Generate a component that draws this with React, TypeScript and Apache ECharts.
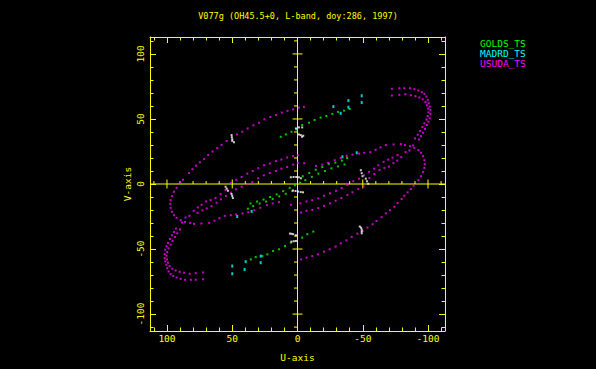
import React, { useEffect, useRef } from "react";
import * as echarts from "echarts";

const YELLOW = "#ffff00";
const FONT = "'DejaVu Sans Mono', monospace";

const titleText = "V077g (OH45.5+0, L-band, doy:286, 1997)";
const uAxisName = "U-axis";
const vAxisName = "V-axis";
const axisMin = -113;
const axisMax = 113;
const labelTicks = [-100, -50, 0, 50, 100];
const minorTicks = [-110, -90, -80, -70, -60, -40, -30, -20, -10, 10, 20, 30, 40, 60, 70, 80, 90, 110];
const crossMajor = [-100, -50, 50, 100];

const legendNames = ["GOLDS_TS", "MADRD_TS", "USUDA_TS"];
const legendColors = ["#00ff00", "#00ffff", "#ff00ff"];

// USUDA_TS tracks (u, v)
const usudaLineA = [[89.7,0.8],[87.7,3.3],[83.1,8.5],[80.5,11.4],[77.7,14.1],[74.8,16.7],[71.5,19.3],[68.5,22.2],[65.1,25.0],[61.5,27.6],[58.2,30.1],[54.3,33.0],[46.4,38.1],[42.3,40.2],[38.2,42.7],[33.8,45.1],[29.5,47.1],[25.4,49.7],[20.8,51.5],[16.4,53.1],[12.0,54.9],[7.7,56.2],[3.3,57.4],[-1.1,58.7],[-4.9,59.3]];
const usudaLineAConj = [[-89.0,-1.3],[-86.9,-3.9],[-84.4,-6.4],[-81.8,-9.0],[-79.8,-11.6],[-76.7,-14.7],[-74.2,-17.5],[-70.8,-20.1],[-67.7,-22.6],[-64.4,-25.5],[-60.5,-28.4],[-57.5,-30.9],[-53.6,-33.5],[-49.8,-36.1],[-45.9,-38.2],[-41.5,-40.7],[-37.5,-43.3],[-33.1,-45.6],[-29.2,-48.1],[-24.6,-50.2],[-20.3,-52.0],[-15.7,-54.1],[-11.3,-55.4],[-6.9,-56.6],[-2.8,-58.0]];
const usudaLoop = [[-67.7,29.9],[-73.6,30.4],[-79.2,30.7],[-82.3,29.9],[-86.2,29.1],[-89.5,27.8],[-92.6,26.0],[-94.6,24.0],[-96.2,21.4],[-97.2,18.3],[-97.5,15.2],[-97.2,12.4],[-96.2,9.3],[-94.6,6.0],[-92.6,2.9]];
const usudaLoopConj = [[67.7,-29.9],[73.6,-30.4],[79.2,-30.7],[82.3,-29.9],[86.2,-29.1],[89.5,-27.8],[92.6,-26.0],[94.6,-24.0],[96.2,-21.4],[97.2,-18.3],[97.5,-15.2],[97.2,-12.4],[96.2,-9.3],[94.6,-6.0],[92.6,-2.9]];
const usudaHookOuter = [[-72.3,73.2],[-78.0,73.6],[-81.8,73.6],[-86.2,73.6],[-89.5,72.9],[-92.6,71.9],[-95.2,70.6],[-97.2,69.3],[-98.8,67.2],[-99.8,64.7],[-100.5,62.1],[-101.3,59.5],[-101.8,57.0],[-101.8,53.9],[-101.3,50.5],[-100.3,47.9],[-99.2,45.4],[-97.7,42.3],[-96.2,39.4],[-94.6,36.9],[-93.1,34.2]];
const usudaHookOuterConj = [[72.3,-73.2],[78.0,-73.6],[81.8,-73.6],[86.2,-73.6],[89.5,-72.9],[92.6,-71.9],[95.2,-70.6],[97.2,-69.3],[98.8,-67.2],[99.8,-64.7],[100.5,-62.1],[101.3,-59.5],[101.8,-57.0],[101.8,-53.9],[101.3,-50.5],[100.3,-47.9],[99.2,-45.4],[97.7,-42.3],[96.2,-39.4],[94.6,-36.9],[93.1,-34.2]];
const usudaHookInner = [[-72.3,68.0],[-78.0,68.5],[-82.6,69.0],[-86.9,68.2],[-90.3,67.5],[-93.4,66.5],[-95.9,65.1],[-98.0,63.1],[-99.2,60.5],[-100.0,58.0],[-100.3,55.1],[-99.8,52.3],[-98.8,49.5],[-97.2,46.6],[-95.7,43.8],[-93.8,40.7],[-92.1,37.9],[-90.0,35.0]];
const usudaHookInnerConj = [[72.3,-68.0],[78.0,-68.5],[82.6,-69.0],[86.9,-68.2],[90.3,-67.5],[93.4,-66.5],[95.9,-65.1],[98.0,-63.1],[99.2,-60.5],[100.0,-58.0],[100.3,-55.1],[99.8,-52.3],[98.8,-49.5],[97.2,-46.6],[95.7,-43.8],[93.8,-40.7],[92.1,-37.9],[90.0,-35.0]];
const usudaArcC = [[-5.1,16.0],[-14.2,13.9],[-19.0,14.9],[-23.4,16.2],[-28.5,18.3],[-33.1,20.1],[-37.7,21.6],[-42.1,22.6],[-47.2,23.4],[-51.1,24.0],[-55.7,24.5],[-59.8,26.3],[-63.6,28.2]];
const usudaArcCConj = [[5.1,-16.0],[14.2,-13.9],[19.0,-14.9],[23.4,-16.2],[28.5,-18.3],[33.1,-20.1],[37.7,-21.6],[42.1,-22.6],[47.2,-23.4],[51.1,-24.0],[55.7,-24.5],[59.8,-26.3],[63.6,-28.2]];
const usudaRowB1 = [[51.2,0.8],[46.9,3.3],[42.8,5.4],[38.5,8.0],[34.3,10.0],[30.0,12.1],[25.6,14.5],[21.2,15.7],[16.6,17.6],[12.3,18.8],[7.9,20.4],[3.3,21.4],[-0.3,22.2]];
const usudaRowB1Conj = [[-50.5,-1.8],[-46.5,-3.9],[-42.1,-6.4],[-38.2,-8.5],[-33.6,-10.8],[-29.2,-12.9],[-24.9,-14.9],[-20.3,-16.8],[-15.9,-18.5],[-11.3,-19.9],[-6.9,-20.6],[-2.8,-21.9]];
const usudaRowB2 = [[34.6,1.5],[30.2,4.4],[25.8,6.7],[21.2,8.5],[16.6,10.0],[12.3,11.8],[7.9,13.1],[3.3,14.9],[-0.3,16.2]];
const usudaRowB2Conj = [[-38.2,-0.8],[-33.8,-3.1],[-29.5,-5.2],[-24.9,-7.2],[-20.3,-9.0],[-15.9,-11.1],[-11.3,-12.4],[-6.9,-13.4],[-2.3,-14.9]];
const usudaTailA = [[-76.6,22.2],[-72.8,20.3],[-69.5,18.8],[-65.9,17.0],[-62.0,14.4],[-58.7,11.8],[-54.8,9.3],[-51.0,6.7],[-47.2,4.1],[-42.8,2.1],[-38.2,0.2]];
const usudaTailAConj = [[76.6,-22.2],[72.8,-20.3],[69.5,-18.8],[65.9,-17.0],[62.0,-14.4],[58.7,-11.8],[54.8,-9.3],[51.0,-6.7],[47.2,-4.1],[42.8,-2.1],[38.2,-0.2]];
const usudaTailB = [[88.5,-29.6],[85.8,-25.8],[82.8,-24.5],[79.5,-20.6],[76.4,-18.0],[73.5,-16.0],[70.0,-13.4],[66.6,-12.4],[62.8,-10.8],[58.9,-7.7],[55.1,-4.6]];
const usudaTailBConj = [[-88.5,29.6],[-85.8,25.8],[-82.8,24.5],[-79.5,20.6],[-76.4,18.0],[-73.5,16.0],[-70.0,13.4],[-66.6,12.4],[-62.8,10.8],[-58.9,7.7],[-55.1,4.6]];

// GOLDS_TS
const goldsUpper = [[12.8,36.3],[8.9,38.1],[4.6,40.2],[0.8,42.0],[-3.6,45.4],[-8.8,47.1],[-13.1,49.2],[-17.7,51.0],[-22.1,52.3],[-26.7,53.9],[-31.1,55.4],[-35.7,56.4],[-40.0,57.7]];
const goldsLower = [[35.8,-58.0],[32.0,-56.2],[26.9,-55.4],[23.1,-54.1],[18.7,-51.5],[14.1,-50.2],[9.5,-47.7],[5.1,-45.1],[-3.6,-41.2],[-7.5,-38.6],[-12.1,-36.6]];
const goldsMidA = [[-38,20],[-34,18],[-29,16.5],[-24,15.5],[-19,13],[-14,11],[-9,8.5],[-4,6],[4,-5.5],[9,-7.5],[14,-9.5],[19,-11.5],[24,-13.5],[29,-15],[34,-17],[38,-19]];
const goldsMidB = [[-36,15],[-31,13.5],[-26,12],[-21,10],[-16,8],[-11,5.5],[-6,3],[-2,1],[2,-1],[6,-3],[11,-5.5],[16,-8],[21,-10],[26,-12],[31,-13.5],[36,-15]];

// MADRD_TS
const madrdPoints = [[-27.5,59.5],[-33.1,54.3],[-39.0,64.1],[-39.0,59.0],[-49.2,67.8],[-49.2,62.6],[-34.4,20.9],[-45.4,24.0],[39.7,-59.7],[40.5,-65.7],[50.0,-63.1],[50.0,-69.0],[28.2,-55.4],[28.2,-60.5],[46.2,-25.0],[35.1,-21.1]];

// short white tracks
const whiteMarks = [[50.5,37.6],[50.3,36],[50,34.4],[50,33.2],[48.7,32.1],
  [1.2,42.7],[-1.1,43.5],[-3.6,43.5],[-1.1,38.1],[-2.5,37.6],[-4.4,37.1],[-3.5,36.3],
  [5.1,5.2],[3,5.4],[1,5.4],[-1,5.2],[-2.6,4.4],
  [3.5,-5.0],[1.5,-5.4],[-0.5,-5.8],[-2.5,-6.2],[-4.2,-6.4],
  [-47.7,-32.7],[-48.7,-33.6],[-49.2,-35],[-49.2,-36.5],[-49.2,-37.9],
  [5.8,-38.1],[4.5,-38.3],[3.3,-38.6],[1.2,-39.4],[4.6,-44.3],[2.8,-44.0],[1.2,-43.8],
  [55.1,-2.1],[54.2,-3.6],[53.3,-5.2],[50.5,-7.7],[50,-9.2],[49.5,-10.8],
  [-48.5,10.6],[-49.2,8.3],[-49.8,6.0],[-52.3,4.1],[-53.2,2.1],[-54.2,0.2]];

const usudaAll = [
  ...usudaLineA, ...usudaLineAConj, ...usudaLoop, ...usudaLoopConj,
  ...usudaHookOuter, ...usudaHookOuterConj, ...usudaHookInner, ...usudaHookInnerConj,
  ...usudaArcC, ...usudaArcCConj, ...usudaRowB1, ...usudaRowB1Conj,
  ...usudaRowB2, ...usudaRowB2Conj, ...usudaTailA, ...usudaTailAConj,
  ...usudaTailB, ...usudaTailBConj,
];
const goldsAll = [...goldsUpper, ...goldsLower, ...goldsMidA, ...goldsMidB];

function frameAxis(dim: "x" | "y", gridIndex: number, position: string, major: boolean, withLabels: boolean) {
  const ax: any = {
    type: "value",
    gridIndex,
    position,
    min: axisMin,
    max: axisMax,
    inverse: dim === "x",
    splitLine: { show: false },
    axisLine: { show: major, onZero: false, lineStyle: { color: YELLOW, width: 1 } },
    axisTick: {
      show: true,
      inside: true,
      length: major ? 6 : 3.5,
      customValues: major ? labelTicks : minorTicks,
      lineStyle: { color: YELLOW, width: 1 },
    },
    axisLabel: { show: false },
  };
  if (withLabels) {
    ax.axisLabel = {
      show: true,
      customValues: labelTicks,
      color: YELLOW,
      fontFamily: FONT,
      fontSize: 9.5,
      margin: dim === "x" ? 2 : 5,
      rotate: dim === "y" ? 90 : 0,
    };
    ax.name = dim === "x" ? uAxisName : vAxisName;
    ax.nameLocation = "middle";
    ax.nameGap = dim === "x" ? 21 : 18;
    ax.nameTextStyle = { color: YELLOW, fontFamily: FONT, fontSize: 9.5 };
  }
  return ax;
}

export default function App() {
  const ref = useRef<HTMLDivElement>(null);
  useEffect(() => {
    document.body.style.margin = "0";
    document.body.style.background = "#000";
    if (!ref.current) return;
    const chart = echarts.init(ref.current, null, { renderer: "svg" });
    const crossData: number[][] = [[0, 2]];
    crossMajor.forEach((t) => crossData.push([t, 1]));
    minorTicks.forEach((t) => crossData.push([t, 0]));

    const pt = (d: number[]) => ({ value: d });

    chart.setOption({
      animation: false,
      backgroundColor: "#000000",
      title: {
        text: titleText,
        left: "center",
        top: 6,
        textStyle: { color: YELLOW, fontFamily: FONT, fontSize: 8.5, fontWeight: "normal" },
      },
      legend: {
        orient: "vertical",
        left: 470,
        top: 33,
        itemWidth: 0,
        itemHeight: 0,
        itemGap: 0,
        selectedMode: false,
        textStyle: { fontFamily: FONT, fontSize: 9.5, lineHeight: 10 },
        data: legendNames.map((n, i) => ({ name: n, textStyle: { color: legendColors[i] } })),
      },
      grid: [
        { left: 150, top: 37, width: 295, height: 294 },
        { left: 150, top: 37, width: 295, height: 294 },
      ],
      xAxis: [
        frameAxis("x", 0, "bottom", true, true),
        frameAxis("x", 0, "top", true, false),
        frameAxis("x", 1, "bottom", false, false),
        frameAxis("x", 1, "top", false, false),
      ],
      yAxis: [
        frameAxis("y", 0, "left", true, true),
        frameAxis("y", 0, "right", true, false),
        frameAxis("y", 1, "left", false, false),
        frameAxis("y", 1, "right", false, false),
      ],
      series: [
        {
          type: "custom",
          name: "axes",
          xAxisIndex: 0,
          yAxisIndex: 0,
          clip: false,
          silent: true,
          data: crossData,
          renderItem: (_p: any, api: any) => {
            const t = api.value(0);
            const kind = api.value(1);
            const style = { stroke: YELLOW, lineWidth: 1 };
            const ln = (x1: number, y1: number, x2: number, y2: number) => ({
              type: "line",
              shape: { x1, y1, x2, y2 },
              style,
            });
            if (kind === 2) {
              const a = api.coord([axisMin, 0]);
              const b = api.coord([axisMax, 0]);
              const c = api.coord([0, axisMin]);
              const d = api.coord([0, axisMax]);
              return { type: "group", children: [ln(a[0], a[1], b[0], b[1]), ln(c[0], c[1], d[0], d[1])] };
            }
            const h = api.coord([t, 0]);
            const v = api.coord([0, t]);
            if (kind === 1) {
              return {
                type: "group",
                children: [ln(h[0], h[1] - 4.5, h[0], h[1] + 4.5), ln(v[0] - 5, v[1], v[0] + 5, v[1])],
              };
            }
            return {
              type: "group",
              children: [ln(h[0], h[1], h[0], h[1] - 3), ln(v[0] - 3.5, v[1], v[0], v[1])],
            };
          },
        },
        {
          type: "scatter",
          name: "GOLDS_TS",
          symbol: "rect",
          symbolSize: 2,
          itemStyle: { color: legendColors[0] },
          data: goldsAll.map(pt),
        },
        {
          type: "scatter",
          name: "MADRD_TS",
          symbol: "rect",
          symbolSize: [2, 3],
          itemStyle: { color: legendColors[1] },
          data: madrdPoints.map(pt),
        },
        {
          type: "scatter",
          name: "USUDA_TS",
          symbol: "rect",
          symbolSize: 2,
          itemStyle: { color: legendColors[2] },
          data: usudaAll.map(pt),
        },
        {
          type: "scatter",
          name: "other",
          symbol: "rect",
          symbolSize: 2,
          itemStyle: { color: "#ffffff" },
          data: whiteMarks.map(pt),
        },
      ],
    });
    return () => chart.dispose();
  }, []);
  return <div ref={ref} style={{ width: 596, height: 369 }} />;
}
